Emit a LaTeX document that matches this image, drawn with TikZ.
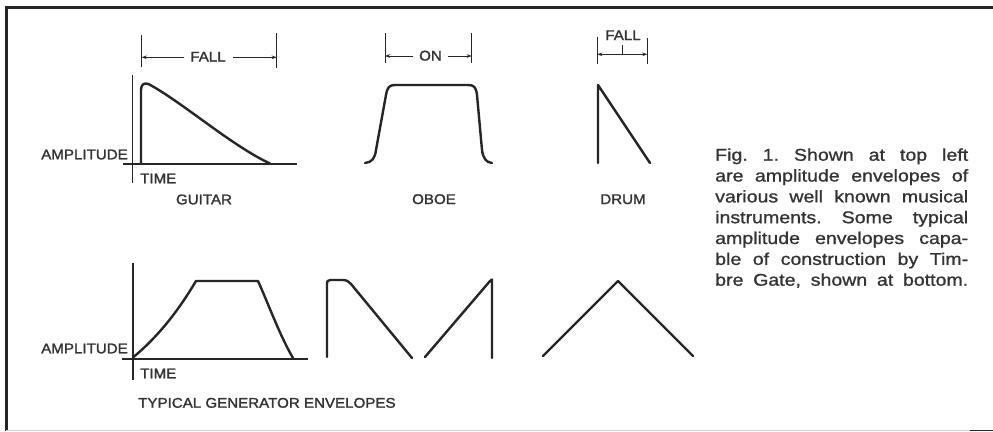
\documentclass[tikz,border=0pt]{standalone}
\usepackage{fontspec}
\setmainfont{Liberation Sans}
\newfontfamily\lblfont[FakeStretch=1.08,FakeBold=1.6]{Liberation Sans}
\newfontfamily\capfont[FakeStretch=1.15,FakeBold=1.0]{Liberation Sans}
\usetikzlibrary{arrows.meta}
\definecolor{ink}{HTML}{262626}
\definecolor{txt}{HTML}{333333}
\begin{document}
\frenchspacing
\begin{tikzpicture}[x=1pt,y=-1pt,
  lbl/.style={font=\lblfont\fontsize{14}{16}\selectfont, text=txt, inner sep=0pt},
  capl/.style={font=\capfont\fontsize{17}{20}\selectfont, text=txt, inner sep=0pt, anchor=base west},
  env/.style={draw=ink, line width=2.4pt, line cap=round, line join=round},
  axis/.style={draw=ink, line width=1.1pt},
  dim/.style={draw=ink, line width=1pt},
  dimarr/.style={draw=ink, line width=1pt, -{Stealth[length=5pt,width=3.6pt]}},
]
\useasboundingbox (0,0) rectangle (993,431);
\fill[white] (0,0) rectangle (993,431);

% frame
\draw[ink, line width=3pt, line join=miter] (6,431) -- (6,7) -- (993,7);
\draw[gray!35, line width=1pt] (6,430.5) -- (970,430.5);
\draw[ink, line width=1.5pt] (970,430.5) -- (993,430.5);

% ---------- top: guitar ----------
\node[lbl, anchor=base east] (amp1) at (128,159.3) {AMPLITUDE};
\node[lbl, anchor=base west] (time1) at (140,183.3) {TIME};
\node[lbl, anchor=base] (guitar) at (204,204.3) {GUITAR};
\draw[axis] (132.7,75) -- (132.7,183);
\draw[axis] (123,164) -- (297,164);
\draw[env] (141,164) -- (141,91) .. controls (141,84) and (144,82.5) .. (148.5,84)
  .. controls (182,102) and (232,146) .. (270,163.5);

% guitar FALL dimension
\node[lbl, anchor=base] (fallg) at (208,61.5) {FALL};
\coordinate (gL) at (141.7,57.3); \coordinate (gLi) at (184,57.3);
\coordinate (gR) at (276.7,57.3); \coordinate (gRi) at (233,57.3);
\draw[dim] (141.7,35) -- (141.7,66.7);
\draw[dim] (276.7,33) -- (276.7,67.7);
\draw[dimarr] (gLi) -- (gL);
\draw[dimarr] (gRi) -- (gR);

% ---------- oboe ----------
\node[lbl, anchor=base] (oboe) at (434,204) {OBOE};
\draw[env] (365,163) .. controls (372,162.5) and (375,158) .. (376,150)
  -- (386,95) .. controls (387.5,87) and (389,85) .. (396,85)
  -- (468,85) .. controls (474,85) and (476,87) .. (477,95)
  -- (482,150) .. controls (483,158) and (486,162.5) .. (492,163);
\node[lbl, anchor=base] (on) at (430.5,60.5) {ON};
\coordinate (oL) at (385,56); \coordinate (oLi) at (413,56);
\coordinate (oR) at (471.7,56); \coordinate (oRi) at (448,56);
\draw[dim] (385,33) -- (385,63);
\draw[dim] (471.7,33) -- (471.7,63);
\draw[dimarr] (oLi) -- (oL);
\draw[dimarr] (oRi) -- (oR);

% ---------- drum ----------
\node[lbl, anchor=base] (drum) at (623,204) {DRUM};
\draw[env] (598,163) -- (598,85) -- (650,163);
\node[lbl, anchor=base] (falld) at (623,40) {FALL};
\coordinate (dL) at (597.3,54.3); \coordinate (dM) at (622.3,54.3);
\coordinate (dR) at (647.3,54.3);
\draw[dim] (597.3,36.7) -- (597.3,64.3);
\draw[dim] (647.3,38) -- (647.3,64.3);
\draw[dim] (622.3,45) -- (dM);
\draw[dimarr] (dM) -- (dL);
\draw[dimarr] (dM) -- (dR);

% ---------- caption ----------
\node[capl] (c1) at (715,160.7) {\makebox[253pt][s]{Fig. 1. Shown at top left}};
\node[capl] (c2) at (715,181.5) {\makebox[253pt][s]{are amplitude envelopes of}};
\node[capl] (c3) at (715,202.4) {\makebox[253pt][s]{various well known musical}};
\node[capl] (c4) at (715,223.2) {\makebox[253pt][s]{instruments. Some typical}};
\node[capl] (c5) at (715,244.0) {\makebox[253pt][s]{amplitude envelopes capa-}};
\node[capl] (c6) at (715,264.9) {\makebox[253pt][s]{ble of construction by Tim-}};
\node[capl] (c7) at (715,285.7) {\makebox[253pt][s]{bre Gate, shown at bottom.}};

% ---------- bottom: generator envelopes ----------
\node[lbl, anchor=base east] (amp2) at (128,353.3) {AMPLITUDE};
\node[lbl, anchor=base west] (time2) at (140,378.3) {TIME};
\node[lbl, anchor=base west] (typ) at (138,407.7) {TYPICAL GENERATOR ENVELOPES};
\draw[axis] (133,263) -- (133,380);
\draw[axis] (122,359) -- (308,359);

\draw[env] (133.5,357) .. controls (160,335) and (180,308) .. (196,281)
  -- (258,281) .. controls (268,303) and (280,336) .. (293,358);
\draw[env] (327,357) -- (327,284) .. controls (327,281) .. (330,280)
  -- (343,280) .. controls (347,280) and (349,282) .. (351,284) -- (412,358);
\draw[env] (425,357) -- (490,281) .. controls (491,279.5) .. (492,279.5) -- (492,358);
\draw[env] (543,356) -- (618,281) -- (693,356);
\end{tikzpicture}
\end{document}
